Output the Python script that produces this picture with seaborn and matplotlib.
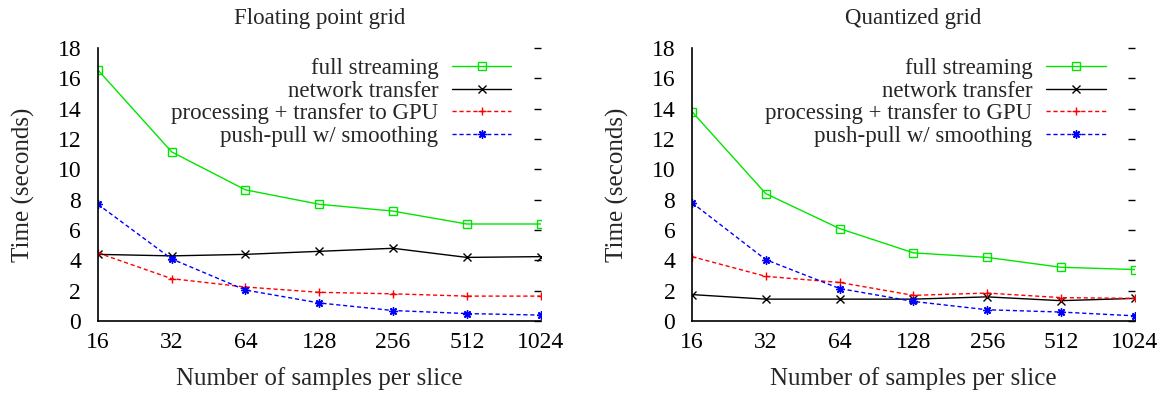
import matplotlib
matplotlib.use("Agg")
import matplotlib.pyplot as plt
import seaborn as sns

# Data
samples = [16, 32, 64, 128, 256, 512, 1024]
titles = ["Floating point grid", "Quantized grid"]
labels = ["full streaming", "network transfer",
          "processing + transfer to GPU", "push-pull w/ smoothing"]

float_full = [16.55, 11.15, 8.65, 7.7, 7.25, 6.4, 6.4]
float_network = [4.4, 4.3, 4.4, 4.6, 4.8, 4.2, 4.25]
float_processing = [4.5, 2.8, 2.25, 1.9, 1.8, 1.65, 1.65]
float_pushpull = [7.7, 4.1, 2.05, 1.2, 0.7, 0.5, 0.4]

quant_full = [13.8, 8.4, 6.1, 4.5, 4.2, 3.55, 3.4]
quant_network = [1.75, 1.45, 1.45, 1.45, 1.6, 1.35, 1.5]
quant_processing = [4.25, 2.95, 2.55, 1.7, 1.85, 1.55, 1.5]
quant_pushpull = [7.8, 4.05, 2.15, 1.3, 0.75, 0.6, 0.35]

# style per series: colour, marker, line style
styles = [
    ("#00e600", "s", "-"),
    ("black", "x", "-"),
    ("#ff0000", "+", (0, (3, 2))),
    ("#0000ff", (8, 2, 0), (0, (3, 2))),
]

sns.set_style("white")
plt.rcParams["font.family"] = ["Liberation Serif", "DejaVu Serif"]

fig = plt.figure(figsize=(11.65, 3.96), dpi=100)
ax1 = fig.add_axes([0.084, 0.189, 0.380, 0.690])
ax2 = fig.add_axes([0.594, 0.189, 0.380, 0.690])

panels = [
    (ax1, [float_full, float_network, float_processing, float_pushpull]),
    (ax2, [quant_full, quant_network, quant_processing, quant_pushpull]),
]

for (ax, series), title in zip(panels, titles):
    for vals, label, (color, marker, ls) in zip(series, labels, styles):
        sns.lineplot(x=samples, y=vals, ax=ax, color=color, marker=marker,
                     linestyle=ls, linewidth=1.0, markersize=6,
                     markerfacecolor="none" if marker == "s" else color,
                     markeredgecolor=color, markeredgewidth=1.0, label=label)

    ax.set_xscale("log", base=2)
    ax.set_xlim(16, 1024)
    ax.set_xticks(samples)
    ax.set_xticklabels([str(s) for s in samples])
    ax.minorticks_off()
    ax.set_ylim(0, 18)
    ax.set_yticks(range(0, 19, 2))

    ax.tick_params(direction="in", right=True, top=False, length=5,
                   labelsize=17, width=1.0, colors="black")
    ax.tick_params(axis="y", pad=12)
    ax.tick_params(axis="x", pad=8)
    for side in ["top", "right"]:
        ax.spines[side].set_visible(False)
    for side in ["left", "bottom"]:
        ax.spines[side].set_color("black")
        ax.spines[side].set_linewidth(1.2)

    ax.set_title(title, fontsize=16.5, pad=17)
    ax.set_xlabel("Number of samples per slice", fontsize=18, labelpad=10)
    ax.set_ylabel("Time (seconds)", fontsize=18, labelpad=16)

    ax.legend(loc="upper right", bbox_to_anchor=(0.955, 0.995), frameon=False,
              markerfirst=False, fontsize=16.5, handlelength=2.6,
              labelspacing=0.06, handletextpad=0.6, borderaxespad=0)

fig.savefig("out.png", dpi=100)
